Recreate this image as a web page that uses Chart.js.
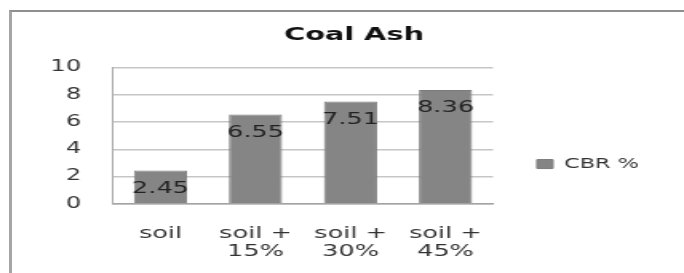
<!DOCTYPE html>
<html>
<head>
<meta charset="utf-8">
<script src="https://cdn.jsdelivr.net/npm/chart.js@4.4.1/dist/chart.umd.min.js"></script>
<style>
  html, body { margin: 0; padding: 0; background: #fff; overflow: hidden; }
  #wrap { position: relative; width: 684px; height: 273px; }
  #chart { position: absolute; left: 0; top: 0; }
  #frame {
    position: absolute; left: 9px; top: 10px; width: 700px; height: 300px;
    border-left: 3px solid #a5a5a5; border-top: 2px solid #8e8e8e;
  }
</style>
</head>
<body>
<div id="wrap">
  <!-- the source picture is stretched sideways, so the canvas is stretched too -->
  <canvas id="chart" width="428" height="273" style="width:684px;height:273px"></canvas>
  <div id="frame"></div>
</div>
<script>
const categories = ['soil', ['soil +', '15%'], ['soil +', '30%'], ['soil +', '45%']];
const cbrValues = [2.45, 6.55, 7.51, 8.36];
const yTicks = [0, 2, 4, 6, 8, 10];
const seriesName = 'CBR %';
const chartTitle = 'Coal Ash';

const FONT = 'DejaVu Sans, Verdana, sans-serif';
const PAD_LEFT = 33;

// value labels drawn inside the top of each bar
const barLabels = {
    id: 'barLabels',
    afterDatasetsDraw(chart) {
        const ctx = chart.ctx;
        const meta = chart.getDatasetMeta(0);
        ctx.save();
        ctx.font = '16px ' + FONT;
        ctx.fillStyle = '#222';
        ctx.textAlign = 'center';
        ctx.textBaseline = 'middle';
        meta.data.forEach((bar, i) => {
            ctx.fillText(cbrValues[i].toFixed(2), bar.x, bar.y + 18);
        });
        ctx.restore();
    }
};

// legend centred on plot + category labels, title nudged like the original
const boxTweaks = {
    id: 'boxTweaks',
    afterLayout(chart) {
        const lg = chart.legend;
        lg.bottom = chart.scales.x.bottom;
        lg.height = lg.bottom - lg.top;
        chart.titleBlock.right = chart.width - 18;
    }
};

const ctx = document.getElementById('chart').getContext('2d');
const coalChart = new Chart(ctx, {
    type: 'bar',
    data: {
        labels: categories,
        datasets: [{
            label: seriesName,
            data: cbrValues,
            backgroundColor: '#858585',
            borderColor: '#7c7c7c',
            borderWidth: 1,
            categoryPercentage: 0.56,
            barPercentage: 1
        }]
    },
    options: {
        responsive: false,
        animation: false,
        devicePixelRatio: 1,
        layout: { padding: { left: PAD_LEFT, right: 27.7, top: 0, bottom: 12.5 } },
        plugins: {
            title: {
                display: true,
                text: chartTitle,
                color: '#111',
                font: { family: FONT, size: 18, weight: 'bold' },
                padding: { top: 25, bottom: 21 }
            },
            legend: {
                position: 'right',
                align: 'center',
                fullSize: false,
                labels: {
                    color: '#333',
                    font: { family: FONT, size: 14 },
                    boxWidth: 10,
                    boxHeight: 9,
                    padding: 27.5
                }
            },
            tooltip: { enabled: false }
        },
        scales: {
            x: {
                afterFit(scale) { scale.height = 21.5 + 2 * 17.6; },
                grid: { display: false, drawTicks: false },
                border: { display: true, color: '#a3a3a3', width: 1.5 },
                ticks: {
                    color: '#333',
                    font: { family: FONT, size: 16, lineHeight: 1.1 },
                    padding: 21.5,
                    maxRotation: 0
                }
            },
            y: {
                min: 0,
                max: 10,
                afterFit(scale) { scale.width = 70.7 - PAD_LEFT; },
                afterBuildTicks(scale) { scale.ticks = yTicks.map(v => ({ value: v })); },
                grid: { color: '#c6c6c6', lineWidth: 1.5, drawTicks: false },
                border: { display: true, color: '#a8a8a8', width: 1 },
                ticks: {
                    color: '#333',
                    font: { family: FONT, size: 15 },
                    padding: 20
                }
            }
        }
    },
    plugins: [barLabels, boxTweaks]
});
</script>
</body>
</html>
